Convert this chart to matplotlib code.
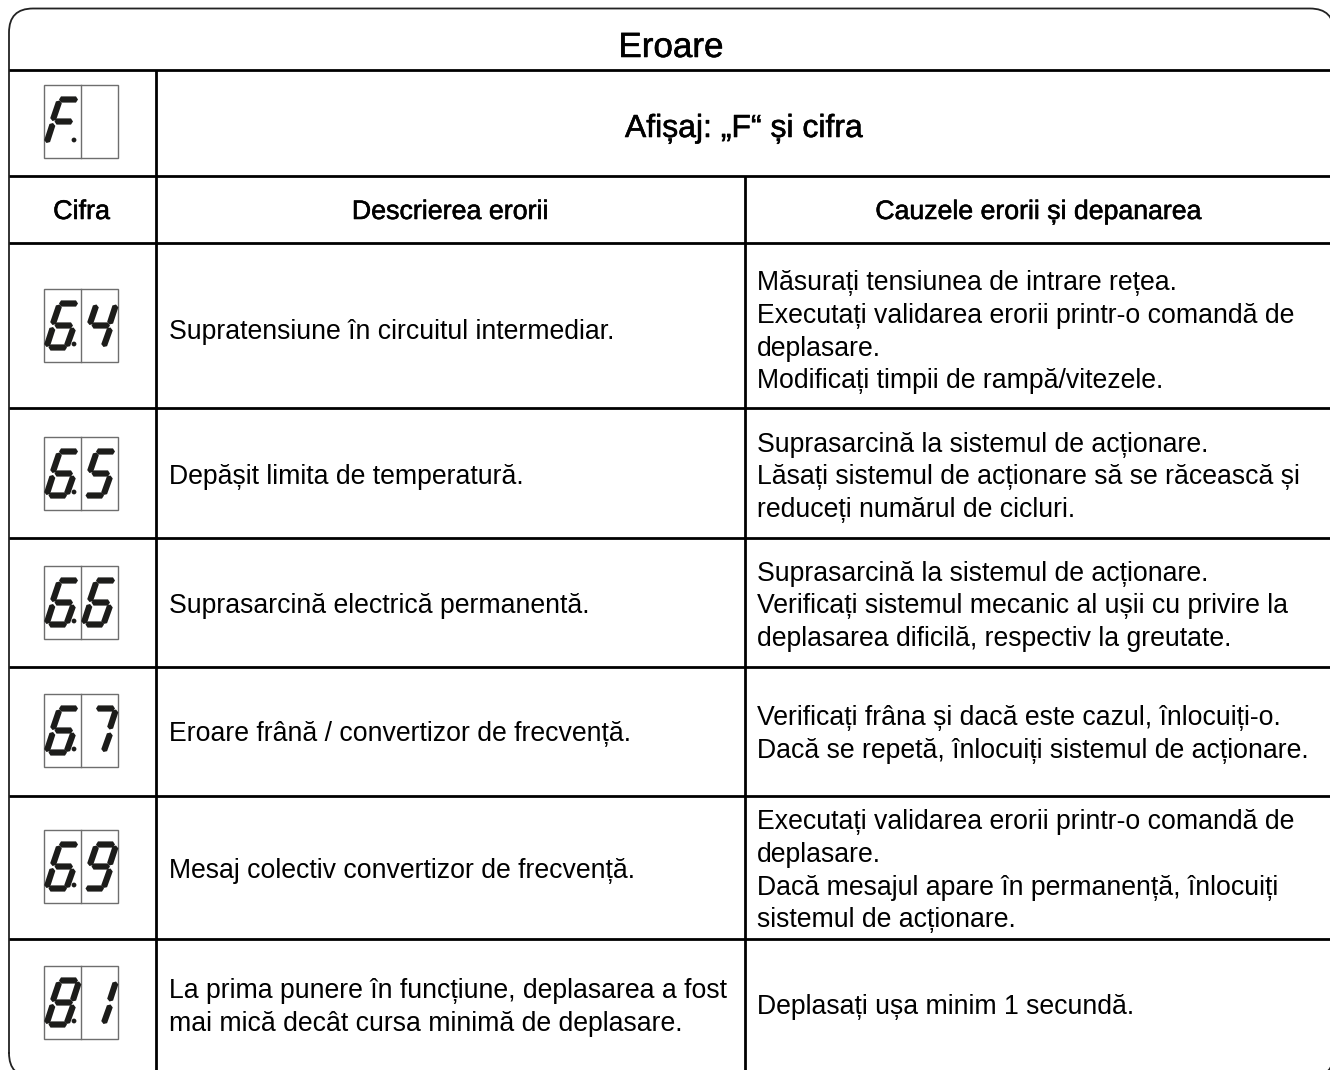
import matplotlib
matplotlib.use("Agg")
import matplotlib.pyplot as plt
from matplotlib.patches import Polygon, Rectangle, Circle
from matplotlib.path import Path
import matplotlib.patheffects as pe
import numpy as np

title = "Eroare"
display_label = "Afișaj: „F“ și cifra"
col_headers = ["Cifra", "Descrierea erorii", "Cauzele erorii și depanarea"]
codes = ["6.4", "6.5", "6.6", "6.7", "6.9", "8.1"]
descriptions = [
    ["Supratensiune în circuitul intermediar."],
    ["Depășit limita de temperatură."],
    ["Suprasarcină electrică permanentă."],
    ["Eroare frână / convertizor de frecvență."],
    ["Mesaj colectiv convertizor de frecvență."],
    ["La prima punere în funcțiune, deplasarea a fost",
     "mai mică decât cursa minimă de deplasare."],
]
causes = [
    ["Măsurați tensiunea de intrare rețea.",
     "Executați validarea erorii printr-o comandă de",
     "deplasare.",
     "Modificați timpii de rampă/vitezele."],
    ["Suprasarcină la sistemul de acționare.",
     "Lăsați sistemul de acționare să se răcească și",
     "reduceți numărul de cicluri."],
    ["Suprasarcină la sistemul de acționare.",
     "Verificați sistemul mecanic al ușii cu privire la",
     "deplasarea dificilă, respectiv la greutate."],
    ["Verificați frâna și dacă este cazul, înlocuiți-o.",
     "Dacă se repetă, înlocuiți sistemul de acționare."],
    ["Executați validarea erorii printr-o comandă de",
     "deplasare.",
     "Dacă mesajul apare în permanență, înlocuiți",
     "sistemul de acționare."],
    ["Deplasați ușa minim 1 secundă."],
]

# layout in pixels
row_lines = [70, 176, 243, 408, 538, 667, 796, 939]
col1, col2 = 156, 745
text_centres = [330, 475, 604, 732, 869, 1005]
box_tops = [289, 437, 566, 694, 830, 966]
F_BOX_TOP = 85
BOX_L, BOX_W, BOX_H = 44, 37, 73
PITCH = 32.7
FS = 19.2

# seven-segment template: tip to tip, pixels relative to one digit cell
SEG = {
    "a": ((15, 14.5), (34, 14.5)),
    "b": ((35, 15.5), (28.5, 35.5)),
    "c": ((29.5, 38.5), (22.5, 58)),
    "d": ((4.5, 58.5), (23, 58.5)),
    "e": ((9, 38), (2.5, 58)),
    "f": ((15.5, 15.5), (8.5, 36)),
    "g": ((10.5, 36.5), (29, 36.5)),
}
DIGITS = {"F": "afeg", "6": "afgcde", "4": "fgbc", "5": "afgcd", "7": "abc",
          "9": "abcdfg", "8": "abcdefg", "1": "bc"}

plt.rcParams["font.family"] = ["Liberation Sans", "DejaVu Sans"]
fig = plt.figure(figsize=(13.3, 10.7), dpi=100)
ax = fig.add_axes([0, 0, 1, 1])
ax.set_xlim(0, 1330)
ax.set_ylim(1070, 0)
ax.axis("off")


def segment(p, q, w=6.2):
    p, q = np.array(p, float), np.array(q, float)
    d = (q - p) / np.hypot(*(q - p))
    n = np.array([-d[1], d[0]])
    c = 2.0
    pts = [p, p + d * c + n * w / 2, q - d * c + n * w / 2,
           q, q - d * c - n * w / 2, p + d * c - n * w / 2]
    ax.add_patch(Polygon(pts, closed=True, fc="#1c1c1a", ec="none", zorder=3))


def display(left, top, chars, dot=True):
    ax.add_patch(Rectangle((left, top), BOX_W * 2, BOX_H, fc="none", ec="#6e6e6e", lw=1.0, zorder=2))
    ax.plot([left + BOX_W] * 2, [top, top + BOX_H], color="#6e6e6e", lw=1.0, zorder=2)
    for i, ch in enumerate(chars):
        for s in DIGITS.get(ch, ""):
            a, b = SEG[s]
            ox = left + i * BOX_W
            segment((a[0] + ox, a[1] + top), (b[0] + ox, b[1] + top))
    if dot:
        ax.add_patch(Circle((left + 30, top + 55), 2.4, fc="#1c1c1a", ec="none", zorder=3))


def header(x, y, s, size):
    ax.text(x, y, s, ha="center", va="baseline", fontsize=size, color="black",
            path_effects=[pe.withStroke(linewidth=0.4, foreground="black")])


# frame and grid
L, T, R, B, r = 9, 8.5, 1334, 1077, 24
frame = Path([(L, B - r), (L, T + r), (L, T), (L + r, T), (R - r, T), (R, T), (R, T + r),
              (R, B - r), (R, B), (R - r, B), (L + r, B), (L, B), (L, B - r)],
             [Path.MOVETO, Path.LINETO, Path.CURVE3, Path.CURVE3, Path.LINETO, Path.CURVE3, Path.CURVE3,
              Path.LINETO, Path.CURVE3, Path.CURVE3, Path.LINETO, Path.CURVE3, Path.CURVE3])
outline = frame.to_polygons(closed_only=False)[0]
ax.plot(outline[:, 0], outline[:, 1], color="#222222", lw=1.3, zorder=4)
for y in row_lines:
    ax.plot([9, 1330], [y, y], color="black", lw=2.0, solid_capstyle="butt", zorder=4)
ax.plot([col1, col1], [row_lines[0], 1070], color="black", lw=2.0, solid_capstyle="butt", zorder=4)
ax.plot([col2, col2], [row_lines[1], 1070], color="black", lw=2.0, solid_capstyle="butt", zorder=4)

# headers
header(671, 57, title, 25.2)
header(744, 137, display_label, 23)
header(81.5, 219, col_headers[0], 19.4)
header(450, 219, col_headers[1], 19.3)
header(1038, 219, col_headers[2], 19.2)
display(BOX_L, F_BOX_TOP, "F ")

# rows
for code, desc, cause, cy, top in zip(codes, descriptions, causes, text_centres, box_tops):
    display(BOX_L, top, code.replace(".", ""))
    for x, lines in ((169, desc), (757, cause)):
        n = len(lines)
        for i, line in enumerate(lines):
            base = cy + (i - (n - 1) / 2) * PITCH + 9.4
            ax.text(x, base, line, ha="left", va="baseline", fontsize=FS, color="black")

fig.savefig("out.png", dpi=100, facecolor="white")
